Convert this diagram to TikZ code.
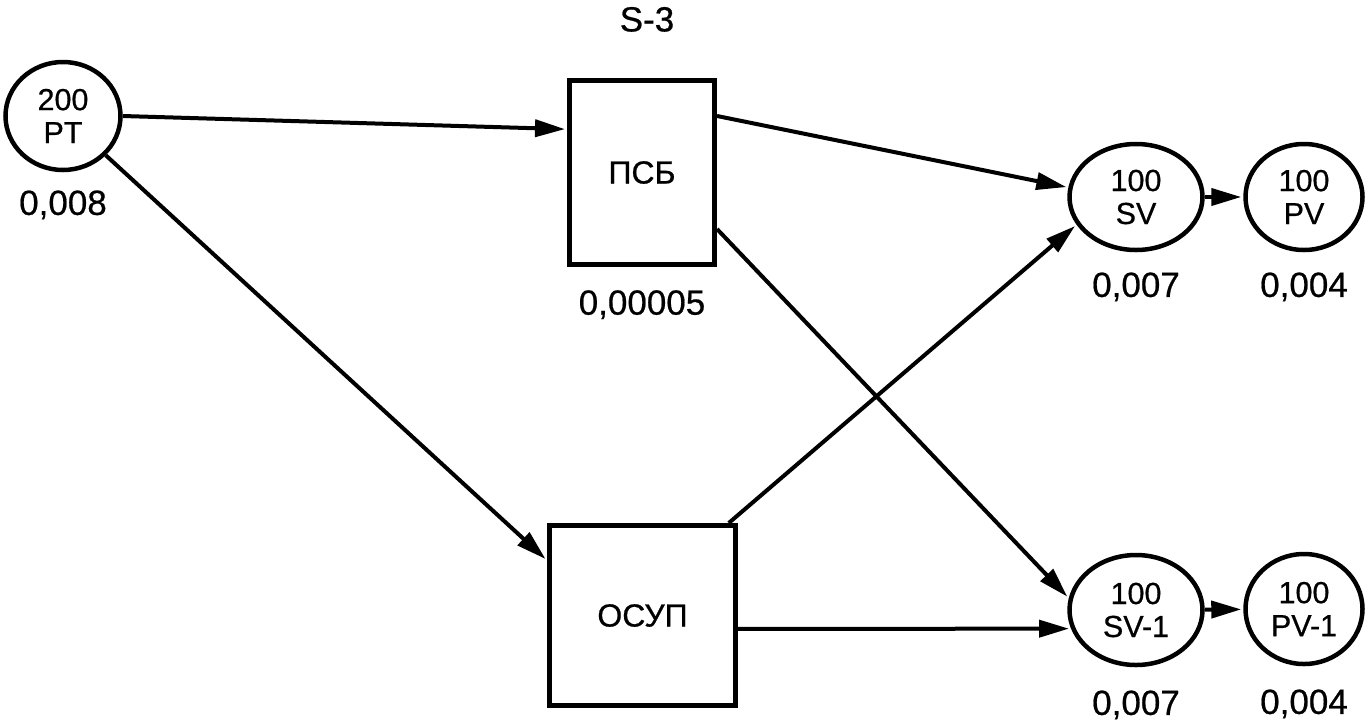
\documentclass[tikz,border=0pt]{standalone}
\usepackage{fontspec}
\setmainfont{Liberation Sans}[FakeBold=0.6]
\usetikzlibrary{positioning,arrows.meta,shapes.geometric}

\begin{document}
\begin{tikzpicture}[
      x=1pt, y=-1pt,
      >={Triangle[length=30pt,width=17pt]},
      blk/.style ={draw, line width=5pt, inner sep=0pt, align=center,
                   font=\fontsize{32}{36}\selectfont},
      st/.style  ={ellipse, draw, line width=4.5pt, inner sep=0pt,
                   align=center, font=\fontsize{30.5}{33}\selectfont},
      lbl/.style ={inner sep=0pt, font=\fontsize{35}{40}\selectfont},
      arr/.style ={->, line width=4pt, shorten >=2pt}
    ]
    \useasboundingbox (0,0) rectangle (1367,721);
    % --- source ---
    \node[st, minimum width=115pt, minimum height=108pt] (pt) at (63,116)
      {200\\PT};
    \node[lbl, below=18pt of pt] (ptv) {0,008};
    % --- protection blocks ---
    \node[blk, minimum width=145pt, minimum height=184pt] (psb) at (642,172.5)
      {ПСБ};
    \node[lbl, below=23pt of psb] (psbv) {0,00005};
    \node[lbl, above=46pt of psb, xshift=5pt] (ttl) {S-3};
    \node[blk, minimum width=186pt, minimum height=180pt] (osup) at (642.5,615.5)
      {ОСУП};
    % --- receivers ---
    \node[st, minimum width=133pt, minimum height=106pt] (sv) at (1136,197)
      {100\\SV};
    \node[st, minimum width=117pt, minimum height=106pt] (pv) at (1304,197)
      {100\\PV};
    \node[st, minimum width=133pt, minimum height=110pt] (sv1) at (1136,610)
      {100\\SV-1};
    \node[st, minimum width=117pt, minimum height=110pt] (pv1) at (1304,609)
      {100\\PV-1};
    \node[lbl, below=20pt of sv]  (svv)  {0,007};
    \node[lbl, below=20pt of pv]  (pvv)  {0,004};
    \node[lbl, below=23pt of sv1] (sv1v) {0,007};
    \node[lbl, below=23pt of pv1] (pv1v) {0,004};
    % --- arrows ---
    \draw[arr] (pt.east)  -- (psb.150);
    \draw[arr] (pt)       -- (osup.150);
    \draw[arr] (psb.37)   -- (sv.172);
    \draw[arr] (psb.-37)  -- (sv1.170);
    \draw[arr] (osup.47)  -- (sv.205);
    \draw[arr] (osup.-8)  -- (sv1.196);
    \draw[arr] (sv)  -- (pv);
    \draw[arr] (sv1) -- (pv1);
  \end{tikzpicture}
\end{document}
